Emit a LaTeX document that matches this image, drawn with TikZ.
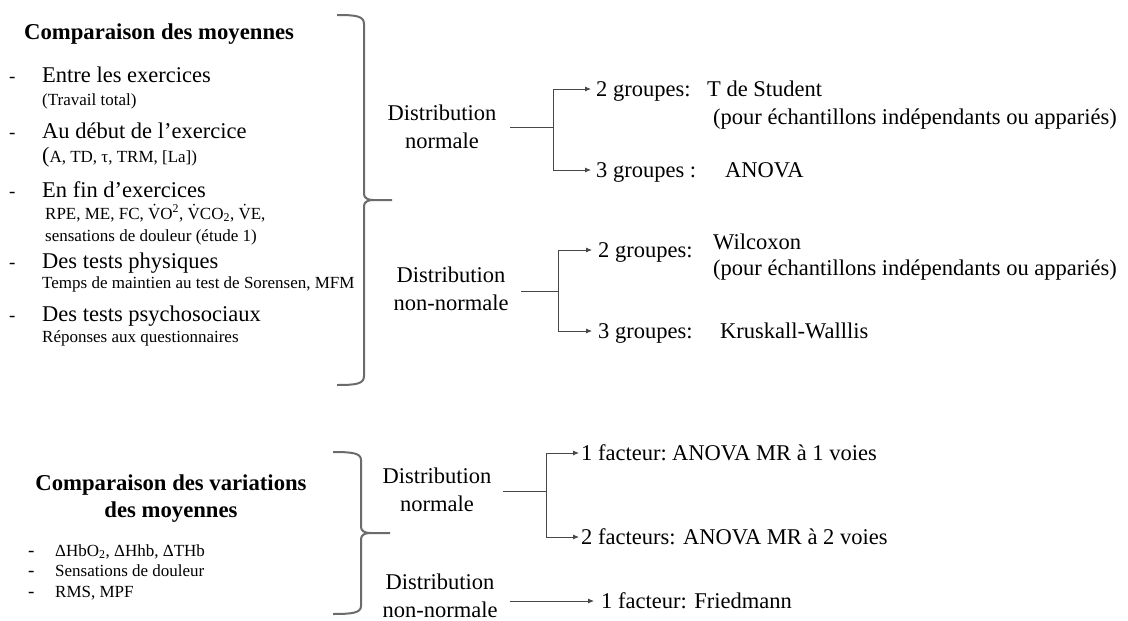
\documentclass[tikz,border=0pt]{standalone}
\usepackage{fontspec}
\setmainfont{Liberation Serif}
\usetikzlibrary{arrows.meta,positioning}
\tikzset{%
	grand/.style={font=\fontsize{22.5}{27}\selectfont, inner sep=0pt, anchor=base west},
	petit/.style={font=\fontsize{17}{20}\selectfont, inner sep=0pt, anchor=base west},
	titre/.style={font=\fontsize{22.7}{27}\selectfont\bfseries, inner sep=0pt, align=center},
	distr/.style={font=\fontsize{22.5}{28}\selectfont, inner sep=0pt, align=center},
	tiret/.style={font=\fontsize{19}{20}\selectfont, inner sep=0pt, anchor=base west},
	accolade/.style={draw=black!58, line width=2pt},
	fl/.style={draw=black!72, line width=0.8pt, -{Latex[length=6pt,width=5pt]}},
	tr/.style={draw=black!72, line width=0.8pt}
}

\begin{document}
\begin{tikzpicture}[x=1pt,y=-1pt]
	\useasboundingbox (0,0) rectangle (1128,621);
	
	% comparaison des moyennes
	\node[titre, anchor=base west] (tmoy) at (24,39) {Comparaison des moyennes};
	\node[tiret] (d1) at (9,82) {-};
	\node[grand] (entre) at (42,82) {Entre les exercices};
	\node[petit] (trav) at (42,105) {(Travail total)};
	\node[tiret] (d2) at (9,138) {-};
	\node[grand] (debut) at (42,138) {Au début de l’exercice};
	\node[petit] (param) at (42,162) {{\fontsize{22}{22}\selectfont(}A, TD, τ, TRM, [La])};
	\node[tiret] (d3) at (9,197) {-};
	\node[grand] (fin) at (42,197) {En fin d’exercices};
	\node[petit] (rpe) at (45,219) {RPE, ME, FC, \.{V}O\textsuperscript{2}, \.{V}CO\textsubscript{2}, \.{V}E,};
	\node[petit] (sens) at (45,241) {sensations de douleur (étude 1)};
	\node[tiret] (d4) at (9,268) {-};
	\node[grand] (phys) at (42,268) {Des tests physiques};
	\node[petit] (temps) at (42,288) {Temps de maintien au test de Sorensen, MFM};
	\node[tiret] (d5) at (9,321) {-};
	\node[grand] (psy) at (42,321) {Des tests psychosociaux};
	\node[petit] (rep) at (42,342) {Réponses aux questionnaires};
	
	\draw[accolade] (337,15) .. controls (356,15) and (364,16) .. (364,24) -- (364,194)
		.. controls (364,198) and (368,200) .. (373,200) -- (392,200);
	\draw[accolade] (373,200) .. controls (368,200) and (364,202) .. (364,206) -- (364,376)
		.. controls (364,384) and (356,385) .. (337,385);
	
	% distribution normale
	\node[distr] (dn) at (442,127) {Distribution\\normale};
	\coordinate (jn) at (553,127);
	\node[grand] (g2) at (596,96) {2 groupes:};
	\node[grand] (stud) at (707,96) {T de Student};
	\node[grand] (ech1) at (713,124) {(pour échantillons indépendants ou appariés)};
	\node[grand] (g3) at (596,177) {3 groupes :};
	\node[grand] (anova) at (725,177) {ANOVA};
	\draw[tr] (510,127) -- (jn);
	\draw[fl] (jn) |- ([xshift=-5pt,yshift=7pt]g2.base west);
	\draw[fl] (jn) |- ([xshift=-5pt,yshift=7pt]g3.base west);
	
	% distribution non-normale
	\node[distr] (dnn) at (451,289) {Distribution\\non-normale};
	\coordinate (jnn) at (558,291);
	\node[grand] (g2b) at (598,257) {2 groupes:};
	\node[grand] (wil) at (713,249) {Wilcoxon};
	\node[grand] (ech2) at (713,275) {(pour échantillons indépendants ou appariés)};
	\node[grand] (g3b) at (598,338) {3 groupes:};
	\node[grand] (krus) at (720,338) {Kruskall-Walllis};
	\draw[tr] (521,291) -- (jnn);
	\draw[fl] (jnn) |- ([xshift=-6pt,yshift=7pt]g2b.base west);
	\draw[fl] (jnn) |- ([xshift=-6pt,yshift=7pt]g3b.base west);
	
	% comparaison des variations
	\node[titre] (tvar) at (171,499) {Comparaison des variations\\des moyennes};
	\node[tiret] (e1) at (28,556) {-};
	\node[petit] (delta) at (55,556) {ΔHbO\textsubscript{2}, ΔHhb, ΔTHb};
	\node[tiret] (e2) at (28,576) {-};
	\node[petit] (sens2) at (55,576) {Sensations de douleur};
	\node[tiret] (e3) at (28,597) {-};
	\node[petit] (rms) at (55,597) {RMS, MPF};
	
	\draw[accolade] (333,452) .. controls (352,452) and (361,453) .. (361,460) -- (361,527)
		.. controls (361,531) and (365,533) .. (370,533) -- (390,533);
	\draw[accolade] (370,533) .. controls (365,533) and (361,535) .. (361,539) -- (361,606)
		.. controls (361,613) and (352,614) .. (333,614);
	
	% variations : normale
	\node[distr] (vn) at (437,490) {Distribution\\normale};
	\coordinate (jv) at (546,491);
	\node[grand] (f1) at (581,460) {1 facteur:};
	\node[grand] (mr1) at (672,460) {ANOVA MR à 1 voies};
	\node[grand] (f2) at (581,544) {2 facteurs: ANOVA MR à 2 voies};
	\draw[tr] (503,491) -- (jv);
	\draw[fl] (jv) |- ([xshift=-2pt,yshift=7pt]f1.base west);
	\draw[fl] (jv) |- ([xshift=-2pt,yshift=7pt]f2.base west);
	
	% variations : non-normale
	\node[distr] (vnn) at (440,596) {Distribution\\non-normale};
	\node[grand] (fried) at (601,608) {1 facteur: Friedmann};
	\draw[fl] (510,601) -- ([xshift=-7pt,yshift=7pt]fried.base west);
\end{tikzpicture}
\end{document}
